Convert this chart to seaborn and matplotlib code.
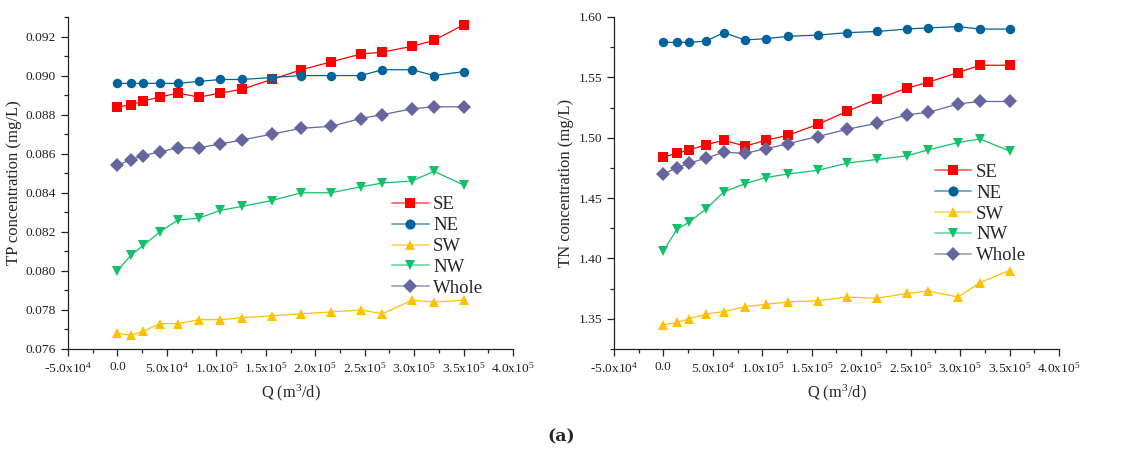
import numpy as np
import pandas as pd
import matplotlib
matplotlib.use("Agg")
import matplotlib.pyplot as plt
from matplotlib.ticker import MultipleLocator, FuncFormatter
from matplotlib.colors import to_rgb
import seaborn as sns

# ---------------- data ----------------
Q = [0, 13500, 26000, 43000, 61000, 82500, 104000, 126000, 156000,
     186000, 216000, 246000, 268000, 298000, 320000, 350000]

regions = ["SE", "NE", "SW", "NW", "Whole"]

tp_SE = [0.0884, 0.0885, 0.0887, 0.0889, 0.0891, 0.0889, 0.0891, 0.0893, 0.0898,
         0.0903, 0.0907, 0.0911, 0.0912, 0.0915, 0.0918, 0.0926]
tp_NE = [0.0896, 0.0896, 0.0896, 0.0896, 0.0896, 0.0897, 0.0898, 0.0898, 0.0899,
         0.0900, 0.0900, 0.0900, 0.0903, 0.0903, 0.0900, 0.0902]
tp_SW = [0.0768, 0.0767, 0.0769, 0.0773, 0.0773, 0.0775, 0.0775, 0.0776, 0.0777,
         0.0778, 0.0779, 0.0780, 0.0778, 0.0785, 0.0784, 0.0785]
tp_NW = [0.0800, 0.0808, 0.0813, 0.0820, 0.0826, 0.0827, 0.0831, 0.0833, 0.0836,
         0.0840, 0.0840, 0.0843, 0.0845, 0.0846, 0.0851, 0.0844]
tp_Whole = [0.0854, 0.0857, 0.0859, 0.0861, 0.0863, 0.0863, 0.0865, 0.0867, 0.0870,
            0.0873, 0.0874, 0.0878, 0.0880, 0.0883, 0.0884, 0.0884]

tn_SE = [1.484, 1.487, 1.490, 1.494, 1.498, 1.493, 1.498, 1.502, 1.511,
         1.522, 1.532, 1.541, 1.546, 1.554, 1.560, 1.560]
tn_NE = [1.579, 1.579, 1.579, 1.580, 1.587, 1.581, 1.582, 1.584, 1.585,
         1.587, 1.588, 1.590, 1.591, 1.592, 1.590, 1.590]
tn_SW = [1.345, 1.347, 1.350, 1.354, 1.356, 1.360, 1.362, 1.364, 1.365,
         1.368, 1.367, 1.371, 1.373, 1.368, 1.380, 1.390]
tn_NW = [1.406, 1.424, 1.430, 1.441, 1.455, 1.462, 1.467, 1.470, 1.473,
         1.479, 1.482, 1.485, 1.490, 1.496, 1.499, 1.489]
tn_Whole = [1.470, 1.475, 1.479, 1.483, 1.488, 1.487, 1.491, 1.495, 1.501,
            1.507, 1.512, 1.519, 1.521, 1.528, 1.530, 1.530]

colors = {"SE": "#FF0000", "NE": "#00639C", "SW": "#FFC000",
          "NW": "#12C06A", "Whole": "#66669E"}
markers = {"SE": "s", "NE": "o", "SW": "^", "NW": "v", "Whole": "D"}


def long_df(series):
    rows = []
    for name, vals in zip(regions, series):
        for q, v in zip(Q, vals):
            rows.append({"Q": q, "value": v, "Region": name})
    return pd.DataFrame(rows)


df_tp = long_df([tp_SE, tp_NE, tp_SW, tp_NW, tp_Whole])
df_tn = long_df([tn_SE, tn_NE, tn_SW, tn_NW, tn_Whole])

# ---------------- style ----------------
sns.set_theme(style="ticks")
plt.rcParams["font.family"] = ["Liberation Serif", "DejaVu Serif"]
plt.rcParams["mathtext.fontset"] = "custom"
plt.rcParams["mathtext.rm"] = "Liberation Serif"
plt.rcParams["mathtext.it"] = "Liberation Serif:italic"


def xfmt(v, pos):
    if abs(v) < 1e-9:
        return "0.0"
    exp = int(np.floor(np.log10(abs(v))))
    mant = v / 10 ** exp
    return "%.1fx10$^{%d}$" % (mant, exp)


def lighten(c, f=0.45):
    r, g, b = to_rgb(c)
    return (r + (1 - r) * f, g + (1 - g) * f, b + (1 - b) * f)


fig = plt.figure(figsize=(11.21, 4.54), dpi=100)
ax1 = fig.add_axes([0.0607, 0.2313, 0.3969, 0.7313])
ax2 = fig.add_axes([0.5477, 0.2313, 0.3970, 0.7313])


def draw(ax, df, ylabel, ylim, major, minor, yfmt, leg_anchor):
    sns.lineplot(data=df, x="Q", y="value", hue="Region", style="Region",
                 hue_order=regions, style_order=regions,
                 palette=colors, markers=markers, dashes=False,
                 markersize=6.8, markeredgewidth=0, linewidth=0.9,
                 ax=ax, legend=True)
    ax.set_xlim(-50000, 400000)
    ax.set_ylim(*ylim)
    ax.xaxis.set_major_locator(MultipleLocator(50000))
    ax.xaxis.set_minor_locator(MultipleLocator(25000))
    ax.xaxis.set_major_formatter(FuncFormatter(xfmt))
    ax.yaxis.set_major_locator(MultipleLocator(major))
    ax.yaxis.set_minor_locator(MultipleLocator(minor))
    ax.yaxis.set_major_formatter(FuncFormatter(lambda v, p: yfmt % v))
    ax.tick_params(axis="both", which="major", direction="out", length=5,
                   width=0.9, labelsize=9.7, colors="#222222")
    ax.tick_params(axis="both", which="minor", direction="out", length=3, width=0.9)
    for s in ["top", "right"]:
        ax.spines[s].set_visible(False)
    for s in ["left", "bottom"]:
        ax.spines[s].set_linewidth(0.9)
        ax.spines[s].set_color("#222222")
    ax.set_xlabel("Q (m$^{3}$/d)", fontsize=11.8, labelpad=5)
    ax.set_ylabel(ylabel, fontsize=12, labelpad=3)
    leg = ax.legend(loc="upper left", bbox_to_anchor=leg_anchor, frameon=False,
                    fontsize=13.5, handlelength=1.95, handletextpad=0.25,
                    labelspacing=0.2, borderpad=0, borderaxespad=0)
    for h, name in zip(leg.legend_handles, regions):
        h.set_color(lighten(colors[name]))
        h.set_markerfacecolor(colors[name])
        h.set_markeredgecolor(colors[name])
        h.set_markersize(7.3)
        h.set_linewidth(1.4)


draw(ax1, df_tp, "TP concentration (mg/L)", (0.076, 0.093), 0.002, 0.001,
     "%.3f", (0.728, 0.46))
draw(ax2, df_tn, "TN concentration (mg/L)", (1.325, 1.6), 0.05, 0.025,
     "%.2f", (0.721, 0.558))

fig.text(0.5005, 0.037, "(a)", ha="center", va="center", fontsize=12.5,
         fontweight="bold", family=["DejaVu Serif"])

fig.savefig("out.png", dpi=100)
